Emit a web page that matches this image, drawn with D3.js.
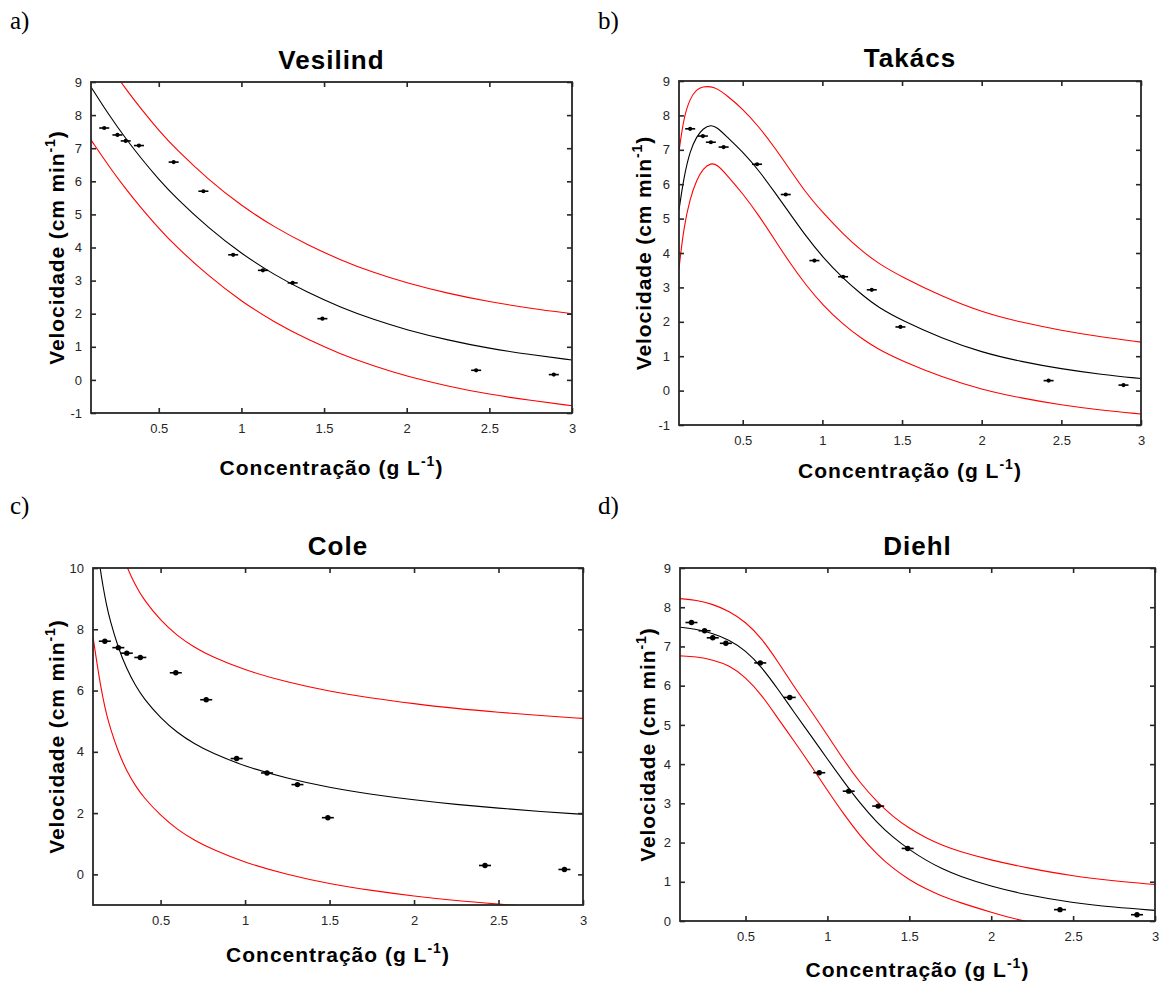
<!DOCTYPE html>
<html>
<head>
<meta charset="utf-8">
<script src="https://cdn.jsdelivr.net/npm/d3@7"></script>
<style>
  body { margin: 0; background: #fff; }
  svg text { font-family: "Liberation Sans", Arial, sans-serif; }
</style>
</head>
<body>
<svg id="fig" width="1164" height="985"></svg>
<script>
// Measured settling velocity vs. solids concentration (same points in every panel)
const conc = [0.17, 0.25, 0.30, 0.38, 0.59, 0.77, 0.95, 1.13, 1.31, 1.49, 2.42, 2.89];
const vel  = [7.61, 7.40, 7.22, 7.08, 6.58, 5.70, 3.78, 3.31, 2.93, 1.85, 0.29, 0.16];

// Vesilind fit with its prediction band
const vesX   = [0.09, 0.2, 0.3, 0.4, 0.5, 0.6, 0.8, 1.0, 1.2, 1.4, 1.6, 1.8, 2.0, 2.25, 2.5, 2.75, 3.0];
const vesFit = [8.85, 7.99, 7.29, 6.65, 6.06, 5.52, 4.59, 3.81, 3.17, 2.64, 2.19, 1.82, 1.51, 1.20, 0.95, 0.76, 0.60];
const vesUp  = [10.37, 9.50, 8.79, 8.14, 7.54, 6.99, 6.05, 5.26, 4.61, 4.08, 3.62, 3.24, 2.93, 2.61, 2.36, 2.16, 2.00];
const vesLo  = [7.25, 6.44, 5.77, 5.15, 4.58, 4.05, 3.14, 2.37, 1.74, 1.22, 0.78, 0.42, 0.11, -0.19, -0.44, -0.62, -0.78];

// Takács fit with its prediction band
const takX   = [0.1, 0.13, 0.17, 0.21, 0.25, 0.3, 0.34, 0.4, 0.5, 0.6, 0.7, 0.8, 0.9, 1.0, 1.13, 1.25, 1.35, 1.5, 1.75, 2.0, 2.25, 2.5, 2.75, 3.0];
const takFit = [5.25, 6.2, 6.98, 7.38, 7.62, 7.73, 7.65, 7.38, 6.94, 6.41, 5.77, 5.12, 4.47, 3.89, 3.26, 2.78, 2.42, 2.04, 1.52, 1.11, 0.84, 0.63, 0.47, 0.35];
const takUp  = [6.95, 7.95, 8.5, 8.76, 8.84, 8.84, 8.78, 8.58, 8.19, 7.68, 7.07, 6.4, 5.73, 5.19, 4.55, 4.05, 3.7, 3.3, 2.74, 2.28, 1.98, 1.75, 1.56, 1.41];
const takLo  = [3.55, 4.75, 5.6, 6.12, 6.45, 6.62, 6.57, 6.27, 5.73, 5.1, 4.39, 3.68, 3.05, 2.5, 1.92, 1.5, 1.2, 0.86, 0.39, 0.03, -0.22, -0.42, -0.57, -0.68];

// Cole fit with its prediction band
const coleX   = [0.1, 0.12, 0.14, 0.16, 0.18, 0.2, 0.25, 0.3, 0.35, 0.4, 0.5, 0.6, 0.7, 0.8, 1.0, 1.25, 1.5, 1.75, 2.0, 2.25, 2.5, 2.75, 3.0];
const coleFit = [12.04, 10.92, 10.06, 9.37, 8.79, 8.31, 7.38, 6.70, 6.17, 5.74, 5.10, 4.62, 4.26, 3.97, 3.52, 3.13, 2.83, 2.61, 2.43, 2.28, 2.16, 2.05, 1.96];
const coleUp  = [16.14, 14.82, 13.81, 13.02, 12.36, 11.81, 10.78, 10.03, 9.44, 8.97, 8.28, 7.78, 7.41, 7.11, 6.66, 6.27, 5.97, 5.75, 5.57, 5.41, 5.29, 5.18, 5.09];
const coleLo  = [7.75, 7.02, 6.31, 5.72, 5.22, 4.81, 3.98, 3.37, 2.90, 2.51, 1.92, 1.46, 1.11, 0.83, 0.38, -0.01, -0.31, -0.53, -0.71, -0.86, -0.97, -1.08, -1.17];

// Diehl fit with its prediction band
const diehlX   = [0.1, 0.2, 0.3, 0.4, 0.5, 0.6, 0.7, 0.8, 0.9, 1.0, 1.1, 1.2, 1.3, 1.4, 1.5, 1.6, 1.7, 1.8, 2.0, 2.2, 2.5, 2.75, 3.0];
const diehlFit = [7.49, 7.44, 7.33, 7.17, 6.9, 6.47, 5.9, 5.3, 4.72, 4.13, 3.55, 3.0, 2.52, 2.13, 1.82, 1.55, 1.33, 1.15, 0.88, 0.68, 0.46, 0.35, 0.27];
const diehlUp  = [8.22, 8.18, 8.08, 7.9, 7.63, 7.2, 6.6, 5.95, 5.36, 4.74, 4.1, 3.52, 3.05, 2.66, 2.36, 2.12, 1.93, 1.78, 1.55, 1.37, 1.14, 1.02, 0.93];
const diehlLo  = [6.76, 6.74, 6.66, 6.52, 6.22, 5.76, 5.15, 4.57, 3.96, 3.33, 2.72, 2.17, 1.71, 1.34, 1.05, 0.82, 0.63, 0.48, 0.22, -0.02, -0.22, -0.35, -0.45];

// Axis ticks
const xTicks      = [0.5, 1, 1.5, 2, 2.5, 3];
const yTicksNine  = [-1, 0, 1, 2, 3, 4, 5, 6, 7, 8, 9];
const yTicksCole  = [0, 2, 4, 6, 8, 10];
const yTicksDiehl = [0, 1, 2, 3, 4, 5, 6, 7, 8, 9];

const titles = ["Vesilind", "Takács", "Cole", "Diehl"];
const tags   = ["a)", "b)", "c)", "d)"];
const xTitle = "Concentração (g L";
const yTitle = "Velocidade (cm min";

const panels = [
  { title: titles[0], tag: tags[0], xs: vesX, fit: vesFit, up: vesUp, lo: vesLo,
    xDom: [0.09, 3], yDom: [-1, 9], yTicks: yTicksNine,
    box: { l: 91, r: 572, t: 82, b: 413 }, tagPos: [10, 29], yLabX: 64, xLabY: 475, titleY: 69, dot: 2.1, bar: 5 },
  { title: titles[1], tag: tags[1], xs: takX, fit: takFit, up: takUp, lo: takLo,
    xDom: [0.1, 3], yDom: [-1, 9], yTicks: yTicksNine,
    box: { l: 679, r: 1141, t: 81, b: 425 }, tagPos: [598, 29], yLabX: 651, xLabY: 478, titleY: 67, dot: 2.1, bar: 5 },
  { title: titles[2], tag: tags[2], xs: coleX, fit: coleFit, up: coleUp, lo: coleLo,
    xDom: [0.1, 3], yDom: [-1, 10], yTicks: yTicksCole,
    box: { l: 93, r: 583, t: 568, b: 905 }, tagPos: [10, 514], yLabX: 64, xLabY: 962, titleY: 555, dot: 2.7, bar: 6 },
  { title: titles[3], tag: tags[3], xs: diehlX, fit: diehlFit, up: diehlUp, lo: diehlLo,
    xDom: [0.1, 3], yDom: [0, 9], yTicks: yTicksDiehl,
    box: { l: 680, r: 1155, t: 568, b: 921 }, tagPos: [598, 514], yLabX: 655, xLabY: 977, titleY: 555, dot: 2.7, bar: 6 }
];

const svg = d3.select("#fig");
const axisColor = "#262626";

panels.forEach((p, i) => {
  const { l, r, t, b } = p.box;
  const x = d3.scaleLinear().domain(p.xDom).range([l, r]);
  const y = d3.scaleLinear().domain(p.yDom).range([b, t]);
  const g = svg.append("g");

  const clipId = "clip" + i;
  svg.append("clipPath").attr("id", clipId)
    .append("rect").attr("x", l).attr("y", t).attr("width", r - l).attr("height", b - t);

  // Fitted curve and band, drawn as smooth splines through the sampled values
  const pts = arr => p.xs.map((xv, k) => [xv, arr[k]]);
  const line = d3.line().x(d => x(d[0])).y(d => y(d[1])).curve(d3.curveBasis);
  const curves = g.append("g").attr("clip-path", `url(#${clipId})`);
  [[p.up, "#ff0000"], [p.lo, "#ff0000"], [p.fit, "#000000"]].forEach(([arr, col]) => {
    curves.append("path").datum(pts(arr))
      .attr("d", line).attr("fill", "none").attr("stroke", col).attr("stroke-width", 1.1);
  });

  // Observations: dot with a short horizontal error bar
  const obs = g.append("g");
  conc.forEach((cv, k) => {
    const cx = x(cv), cy = y(vel[k]);
    obs.append("line").attr("x1", cx - p.bar).attr("x2", cx + p.bar)
      .attr("y1", cy).attr("y2", cy).attr("stroke", "#000").attr("stroke-width", 1.6);
    obs.append("circle").attr("cx", cx).attr("cy", cy).attr("r", p.dot).attr("fill", "#000");
  });

  // Axes with inward ticks on all four sides
  const fmt = d => String(d);
  const bottom = g.append("g").attr("transform", `translate(0,${b})`)
    .call(d3.axisBottom(x).tickValues(xTicks).tickSizeInner(-5).tickSizeOuter(0).tickPadding(11).tickFormat(fmt));
  const top = g.append("g").attr("transform", `translate(0,${t})`)
    .call(d3.axisTop(x).tickValues(xTicks).tickSizeInner(-5).tickSizeOuter(0).tickFormat(""));
  const left = g.append("g").attr("transform", `translate(${l},0)`)
    .call(d3.axisLeft(y).tickValues(p.yTicks).tickSizeInner(-5).tickSizeOuter(0).tickPadding(9).tickFormat(fmt));
  const right = g.append("g").attr("transform", `translate(${r},0)`)
    .call(d3.axisRight(y).tickValues(p.yTicks).tickSizeInner(-5).tickSizeOuter(0).tickFormat(""));
  [bottom, top, left, right].forEach(a => {
    a.select(".domain").remove();
    a.selectAll(".tick line").attr("stroke", axisColor).attr("stroke-width", 1.6);
    a.selectAll(".tick text").attr("fill", axisColor).style("font-size", "13px");
  });

  g.append("rect").attr("x", l).attr("y", t).attr("width", r - l).attr("height", b - t)
    .attr("fill", "none").attr("stroke", axisColor).attr("stroke-width", 1.8);

  // Title
  g.append("text").attr("x", (l + r) / 2).attr("y", p.titleY).attr("text-anchor", "middle")
    .style("font-size", "26px").style("font-weight", "bold").style("letter-spacing", "1px")
    .text(p.title);

  // Axis titles with superscript units
  const xl = g.append("text").attr("x", (l + r) / 2).attr("y", p.xLabY).attr("text-anchor", "middle")
    .style("font-size", "21px").style("font-weight", "bold").style("letter-spacing", "1px");
  xl.append("tspan").text(xTitle);
  xl.append("tspan").attr("dy", -9).style("font-size", "14px").text("-1");
  xl.append("tspan").attr("dy", 9).text(")");

  const yl = g.append("text")
    .attr("transform", `translate(${p.yLabX},${(t + b) / 2}) rotate(-90)`)
    .attr("text-anchor", "middle")
    .style("font-size", "21px").style("font-weight", "bold").style("letter-spacing", "0.9px");
  yl.append("tspan").text(yTitle);
  yl.append("tspan").attr("dy", -9).style("font-size", "14px").text("-1");
  yl.append("tspan").attr("dy", 9).text(")");

  // Panel tag
  svg.append("text").attr("x", p.tagPos[0]).attr("y", p.tagPos[1])
    .style("font-family", "'Liberation Serif', 'Times New Roman', serif")
    .style("font-size", "25px").text(p.tag);
});
</script>
</body>
</html>
